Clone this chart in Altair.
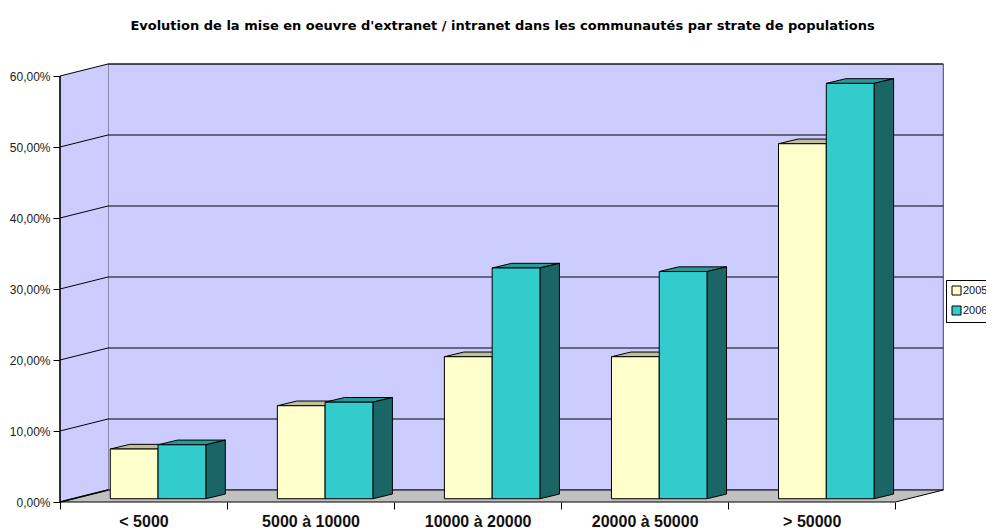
import json
import altair as alt
import pandas as pd

categories = ["< 5000", "5000 à 10000", "10000 à 20000", "20000 à 50000", "> 50000"]
values_2005 = [7.0, 13.1, 20.0, 20.0, 50.0]
values_2006 = [7.6, 13.6, 32.5, 32.0, 58.5]
y_ticks = [0, 10, 20, 30, 40, 50, 60]
series_names = ["2005", "2006"]
title_text = "Evolution de la mise en oeuvre d'extranet / intranet dans les communautés par strate de populations"

# depth of the 3D box, in data units (categories, percent)
WALL_DX, WALL_DY = 0.2873, 1.69
BAR_DX, BAR_DY = 0.1167, 0.66
BAR_BASE = 0.46
BAR_START, BAR_W = 0.301, 0.286
N = len(categories)

W, H = 926, 440
xs = alt.Scale(domain=[0, W / 167.06], range=[0, W], nice=False, zero=False)
ys = alt.Scale(domain=[0, H / 7.1], range=[H, 0], nice=False, zero=False)

y_axis = alt.Axis(values=y_ticks, domain=False, grid=False, tickSize=7, tickColor="black",
                  labelFont="Liberation Sans", labelFontSize=12, labelColor="#222222", labelPadding=3,
                  labelExpr="replace(format(datum.value,'.2f'),'.',',')+'%'")
x_axis = alt.Axis(values=list(range(N + 1)), domain=False, grid=False, tickSize=7, tickColor="black",
                  labelFont="Liberation Sans", labelFontSize=16, labelFontWeight="bold", labelColor="#111111",
                  labelOffset=83.5, labelPadding=4, labelBound=False, labelFlush=False, labelOverlap=False,
                  labelAngle=0,
                  labelExpr=json.dumps(categories + [""]) + "[datum.value]")


def X(f="x"):
    return alt.X(f"{f}:Q", scale=xs, axis=x_axis, title=None)


def Y(f="y"):
    return alt.Y(f"{f}:Q", scale=ys, axis=y_axis, title=None)


# back wall
wall = pd.DataFrame({"x": [WALL_DX], "x2": [N + WALL_DX], "y": [WALL_DY], "y2": [60 + WALL_DY]})
wall_l = alt.Chart(wall).mark_rect(fill="#CCCCFF", stroke="#444458", strokeWidth=1).encode(
    x=X(), x2="x2:Q", y=Y(), y2="y2:Q")

# left wall
left = pd.DataFrame({"x": [0, WALL_DX], "y": [0, WALL_DY], "y2": [60, 60 + WALL_DY]})
left_l = alt.Chart(left).mark_area(fill="#CCCCFF", orient="vertical").encode(x=X(), y=Y(), y2="y2:Q")

# floor
floor = pd.DataFrame({"y": [0, WALL_DY], "x": [0, WALL_DX], "x2": [N, N + WALL_DX]})
floor_l = alt.Chart(floor).mark_area(fill="#C0C0C0", orient="horizontal").encode(x=X(), x2="x2:Q", y=Y())

# gridlines and edges
rows = []
for v in y_ticks:
    rows += [{"id": f"g{v}", "o": 0, "x": 0, "y": v}, {"id": f"g{v}", "o": 1, "x": WALL_DX, "y": v + WALL_DY},
             {"id": f"g{v}", "o": 2, "x": N + WALL_DX, "y": v + WALL_DY}]
rows += [{"id": "right", "o": 0, "x": N, "y": 0}, {"id": "right", "o": 1, "x": N + WALL_DX, "y": WALL_DY},
         {"id": "front", "o": 0, "x": 0, "y": 0}, {"id": "front", "o": 1, "x": N, "y": 0}]
grid_l = alt.Chart(pd.DataFrame(rows)).mark_line(color="black", strokeWidth=1).encode(
    x=X(), y=Y(), detail="id:N", order="o:Q")
heavy = pd.DataFrame([{"id": "a", "o": 0, "x": 0, "y": 60}, {"id": "a", "o": 1, "x": 0, "y": 0},
                      {"id": "a", "o": 2, "x": WALL_DX, "y": WALL_DY}])
heavy_l = alt.Chart(heavy).mark_line(color="black", strokeWidth=1.6).encode(x=X(), y=Y(), order="o:Q")

# bars
front, top, side = [], [], []
for s, (name, vals) in enumerate(zip(series_names, [values_2005, values_2006])):
    for i, v in enumerate(vals):
        l = i + BAR_START + s * BAR_W
        r = l + BAR_W
        t = BAR_BASE + v
        front.append({"s": name, "id": f"{name}{i}", "x": l, "x2": r, "y": BAR_BASE, "y2": t})
        top += [{"s": name, "id": f"{name}{i}", "y": t, "x": l, "x2": r},
                {"s": name, "id": f"{name}{i}", "y": t + BAR_DY, "x": l + BAR_DX, "x2": r + BAR_DX}]
        side += [{"s": name, "id": f"{name}{i}", "x": r, "y": t, "y2": BAR_BASE},
                 {"s": name, "id": f"{name}{i}", "x": r + BAR_DX, "y": t + BAR_DY, "y2": BAR_BASE + BAR_DY}]
front, top, side = pd.DataFrame(front), pd.DataFrame(top), pd.DataFrame(side)

color = alt.Color("s:N", scale=alt.Scale(domain=series_names, range=["#FFFFCC", "#33CCCC"]),
                  legend=alt.Legend(title=None, orient="none", legendX=886, legendY=218, symbolType="square",
                                    symbolSize=81, symbolStrokeColor="black", symbolStrokeWidth=1,
                                    fillColor="white", strokeColor="black", padding=5, offset=0,
                                    labelFont="Liberation Sans", labelFontSize=11, labelColor="#111111",
                                    labelOffset=1, rowPadding=7, labelLimit=200))
top_c = alt.Scale(domain=series_names, range=["#BFBF99", "#269999"])
side_c = alt.Scale(domain=series_names, range=["#BFBF99", "#1A6666"])


def bar_layers(name):
    a = alt.Chart(top[top.s == name]).mark_area(orient="horizontal", stroke="black", strokeWidth=1).encode(
        x=X(), x2="x2:Q", y=Y(), detail="id:N", color=alt.Color("s:N", scale=top_c, legend=None))
    b = alt.Chart(side[side.s == name]).mark_area(orient="vertical", stroke="black", strokeWidth=1).encode(
        x=X(), y=Y(), y2="y2:Q", detail="id:N", color=alt.Color("s:N", scale=side_c, legend=None))
    c = alt.Chart(front[front.s == name]).mark_rect(stroke="black", strokeWidth=1).encode(
        x=X(), x2="x2:Q", y=Y(), y2="y2:Q", color=color)
    return [a, b, c]


layers = [wall_l, left_l, floor_l, grid_l, heavy_l] + bar_layers("2005") + bar_layers("2006")
chart = alt.layer(*layers).resolve_scale(color="independent").properties(
    width=W, height=H,
    autosize=alt.AutoSizeParams(type="none"),
    padding={"left": 52, "top": 54, "right": 0, "bottom": 28},
    title=alt.TitleParams(title_text, font="DejaVu Sans", fontSize=13, fontWeight="bold", color="black",
                          anchor="middle", dx=-20.5, offset=29),
).configure_view(stroke=None)

chart.save("out.html", embed_options={"renderer": "svg", "actions": False})
